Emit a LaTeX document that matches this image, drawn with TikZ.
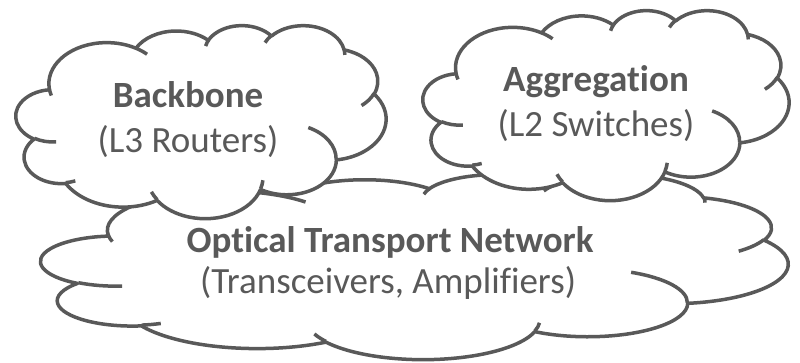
\documentclass[tikz,border=0pt]{standalone}
\usepackage{fontspec}
\setmainfont{Carlito}[Ligatures=NoCommon]
\usepackage{tikz}
\definecolor{cloudgray}{HTML}{595959}

% one office style cloud in a box at (#1,#2) of size #3 x #4
\newcommand{\netcloud}[4]{%
  \begin{scope}[shift={(#1,#2)}, xscale=#3/432, yscale=#4/432]
    \filldraw[cloud line] (39.00,143.70)
      arc[pptarc={67.53}{91.90}{-190.4875}{123.7805}]
      arc[pptarc={53.33}{72.67}{-144.1024}{89.9452}]
      arc[pptarc={43.65}{59.45}{-145.8079}{99.7230}]
      arc[pptarc={48.57}{65.95}{-130.9861}{117.2417}]
      arc[pptarc={53.33}{72.73}{-78.7089}{109.0269}]
      arc[pptarc={67.75}{92.20}{-46.2673}{130.2690}]
      arc[pptarc={57.85}{78.67}{0.6250}{114.0333}]
      arc[pptarc={67.52}{92.15}{22.4516}{115.1726}]
      arc[pptarc={77.20}{105.43}{66.2426}{75.7110}]
      arc[pptarc={43.60}{59.18}{-274.9421}{146.7356}]
      arc[pptarc={43.45}{59.45}{-246.8285}{152.5189}]
      -- cycle;
    \draw[cloud line] (46.93,261.77) arc[pptarc={43.45}{59.45}{86.7420}{26.4295}]
      (69.28,348.99) arc[pptarc={43.60}{59.18}{73.6105}{11.4475}]
      (164.78,390.90) arc[pptarc={67.52}{92.15}{137.6242}{14.0811}]
      (288.27,347.51) arc[pptarc={67.52}{92.15}{6.4533}{15.9984}]
      (341.29,229.54) arc[pptarc={57.85}{78.67}{-70.2924}{70.9174}]
      (417.98,153.54) arc[pptarc={53.33}{72.73}{30.3180}{27.7515}]
      (383.24,54.26) arc[pptarc={48.57}{65.95}{-13.7443}{14.8589}]
      (290.78,39.52) arc[pptarc={48.57}{65.95}{-149.1815}{18.1954}]
      (221.41,47.20) arc[pptarc={43.65}{59.45}{-163.4943}{17.6864}]
      (140.00,51.92) arc[pptarc={67.53}{91.90}{-66.7070}{12.3194}]
      (41.27,157.89) arc[pptarc={67.53}{91.90}{157.6544}{11.8582}];
  \end{scope}}

\begin{document}
\begin{tikzpicture}[x=1pt, y=1pt, yscale=-1,
    pptarc/.style n args={4}{x radius=#1pt, y radius=#2pt,
      start angle={atan2(#1*sin(#3),#2*cos(#3))},
      delta angle={Mod(atan2(#1*sin(#3+#4),#2*cos(#3+#4))-atan2(#1*sin(#3),#2*cos(#3)),360)}}]
  \tikzstyle{cloud line} = [draw=cloudgray, fill=white, line width=3.5pt, line join=round]
  \tikzstyle{cloudhead} = [font=\fontsize{37}{40}\selectfont\bfseries, text=cloudgray, anchor=base]
  \tikzstyle{cloudsub} = [font=\fontsize{37}{40}\selectfont, text=cloudgray, anchor=base]
  \useasboundingbox (0,0) rectangle (800,363);

  % bottom cloud first, the two upper ones lie over it
  \netcloud{41}{174}{747}{185}
  \netcloud{16}{25}{370}{193}
  \netcloud{423}{10}{366}{190}

  \node[cloudhead] (otn) at (390,253) {Optical Transport Network};
  \node[cloudsub] (otnsub) at (388,294) {(Transceivers, Amplifiers)};
  \node[cloudhead] (bb) at (188,108) {Backbone};
  \node[cloudsub] (bbsub) at (188,153) {(L3 Routers)};
  \node[cloudhead] (agg) at (596,92) {Aggregation};
  \node[cloudsub] (aggsub) at (596,137) {(L2 Switches)};
\end{tikzpicture}
\end{document}
